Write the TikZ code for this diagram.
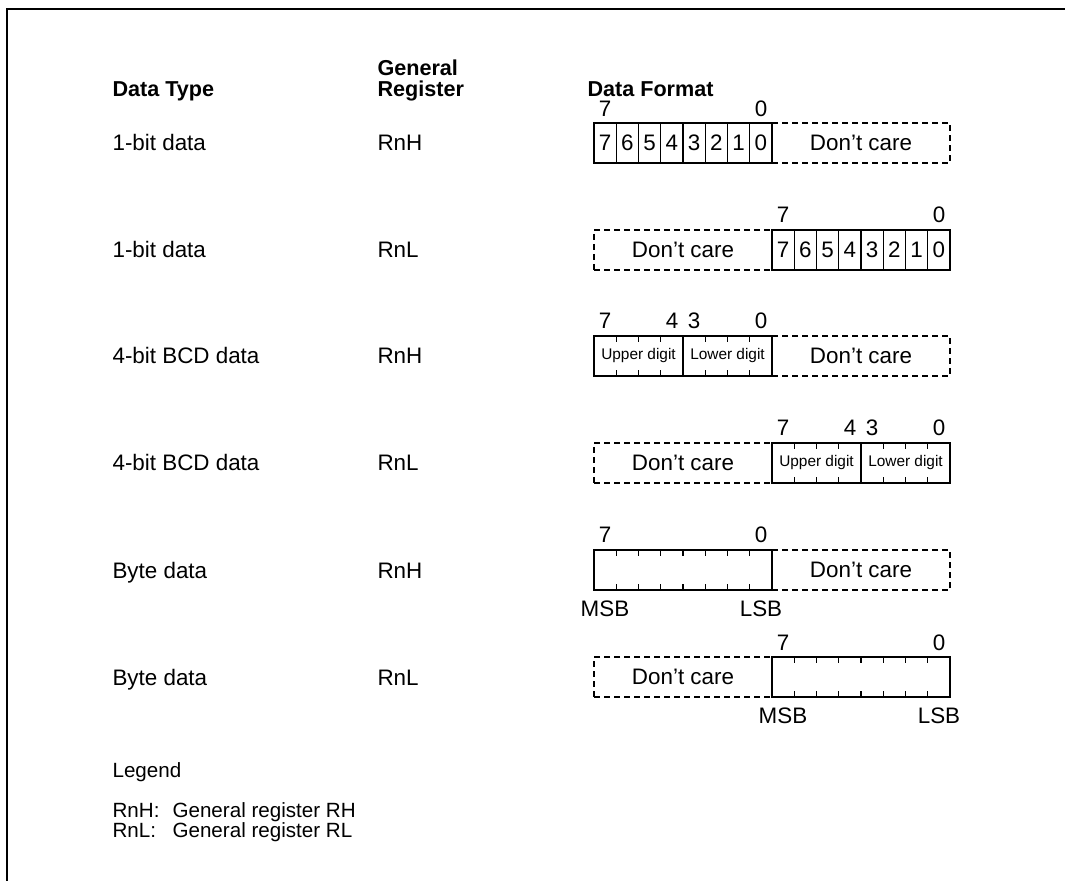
\documentclass[tikz,border=0pt]{standalone}
\usepackage{fontspec}
\setmainfont{Liberation Sans}
\usetikzlibrary{positioning}

\begin{document}
\begin{tikzpicture}[
            x = 0.5pt, y = -0.5pt, % one unit = one pixel of the page
            font = \fontsize{11.2}{13}\selectfont,
            line width = 0.55pt
        ]

        \tikzstyle{head}=[font=\fontsize{10.8}{13}\selectfont\bfseries, anchor=base west, inner sep=0pt]
        \tikzstyle{rowtext}=[anchor=base west, inner sep=0pt]
        \tikzstyle{legtext}=[rowtext, font=\fontsize{10.3}{12}\selectfont]
        \tikzstyle{bitno}=[anchor=base, inner sep=0pt]
        \tikzstyle{byte}=[draw, minimum width=89pt, minimum height=20pt, inner sep=0pt]
        \tikzstyle{care}=[byte, dash pattern=on 3pt off 2pt]
        \tikzstyle{bit}=[draw, minimum width=11.125pt, minimum height=20pt, inner sep=0pt]
        \tikzstyle{digit}=[font=\fontsize{7.7}{9}\selectfont, inner sep=0pt]

        \useasboundingbox (0,0) rectangle (1065,881);
        \draw[line width=1.25pt] (7,881) -- (7,9) -- (1065,9);

        % Headings
        \node[head] (dtype) at (112,97) {Data Type};
        \node[head] (gen) at (377,76) {General};
        \node[head] (reg) at (377,97) {Register};
        \node[head] (dfmt) at (587,97) {Data Format};

        % Row 1: bits in RnH
        \node[rowtext] (t1) at (112,151) {1-bit data};
        \node[rowtext] (g1) at (377,151) {RnH};
        \node[care] (r1dc) at (861,143) {Don't care};
        \foreach \i in {0,...,7}
            \node[bit] (r1b\i) at ({605.125+22.25*(7-\i)},143) {\i};
        \node[bitno] (r1h) at (605,117) {7};
        \node[bitno] (r1l) at (761,117) {0};

        % Row 2: bits in RnL
        \node[rowtext] (t2) at (112,258) {1-bit data};
        \node[rowtext] (g2) at (377,258) {RnL};
        \node[care] (r2dc) at (683,250) {Don't care};
        \foreach \i in {0,...,7}
            \node[bit] (r2b\i) at ({783.125+22.25*(7-\i)},250) {\i};
        \node[bitno] (r2h) at (783,223) {7};
        \node[bitno] (r2l) at (939,223) {0};

        % Row 3: BCD in RnH
        \node[rowtext] (t3) at (112,364) {4-bit BCD data};
        \node[rowtext] (g3) at (377,364) {RnH};
        \node[care] (r3dc) at (861,356) {Don't care};
        \node[byte] (r3) at (683,356) {};
        \draw (r3.north) -- (r3.south);
        \foreach \k in {1,2,3,5,6,7} {
            \draw ({594+22.25*\k},336) -- ++(0,6);
            \draw ({594+22.25*\k},376) -- ++(0,-6);
        }
        \node[digit] (r3up) at (638.5,356) {Upper digit};
        \node[digit] (r3lo) at (727.5,356) {Lower digit};
        \node[bitno] (r3a) at (605,329) {7};
        \node[bitno] (r3b) at (672,329) {4};
        \node[bitno] (r3c) at (694,329) {3};
        \node[bitno] (r3d) at (761,329) {0};

        % Row 4: BCD in RnL
        \node[rowtext] (t4) at (112,471) {4-bit BCD data};
        \node[rowtext] (g4) at (377,471) {RnL};
        \node[care] (r4dc) at (683,463) {Don't care};
        \node[byte] (r4) at (861,463) {};
        \draw (r4.north) -- (r4.south);
        \foreach \k in {1,2,3,5,6,7} {
            \draw ({772+22.25*\k},443) -- ++(0,6);
            \draw ({772+22.25*\k},483) -- ++(0,-6);
        }
        \node[digit] (r4up) at (816.5,463) {Upper digit};
        \node[digit] (r4lo) at (905.5,463) {Lower digit};
        \node[bitno] (r4a) at (783,436) {7};
        \node[bitno] (r4b) at (850,436) {4};
        \node[bitno] (r4c) at (872,436) {3};
        \node[bitno] (r4d) at (939,436) {0};

        % Row 5: byte in RnH
        \node[rowtext] (t5) at (112,578) {Byte data};
        \node[rowtext] (g5) at (377,578) {RnH};
        \node[care] (r5dc) at (861,570) {Don't care};
        \node[byte] (r5) at (683,570) {};
        \foreach \k in {1,...,7} {
            \draw ({594+22.25*\k},550) -- ++(0,6);
            \draw ({594+22.25*\k},590) -- ++(0,-6);
        }
        \node[bitno] (r5h) at (605,543) {7};
        \node[bitno] (r5l) at (761,543) {0};
        \node[bitno] (r5msb) at (605,616) {MSB};
        \node[bitno] (r5lsb) at (761,616) {LSB};

        % Row 6: byte in RnL
        \node[rowtext] (t6) at (112,685) {Byte data};
        \node[rowtext] (g6) at (377,685) {RnL};
        \node[care] (r6dc) at (683,677) {Don't care};
        \node[byte] (r6) at (861,677) {};
        \foreach \k in {1,...,7} {
            \draw ({772+22.25*\k},657) -- ++(0,6);
            \draw ({772+22.25*\k},697) -- ++(0,-6);
        }
        \node[bitno] (r6h) at (783,650) {7};
        \node[bitno] (r6l) at (939,650) {0};
        \node[bitno] (r6msb) at (783,723) {MSB};
        \node[bitno] (r6lsb) at (939,723) {LSB};

        % Legend
        \node[legtext] (leg) at (112,777) {Legend};
        \node[legtext] (legh) at (112,817) {RnH:};
        \node[legtext] (leghx) at (172,817) {General register RH};
        \node[legtext] (legl) at (112,837) {RnL:};
        \node[legtext] (leglx) at (172,837) {General register RL};
      \end{tikzpicture}
\end{document}
